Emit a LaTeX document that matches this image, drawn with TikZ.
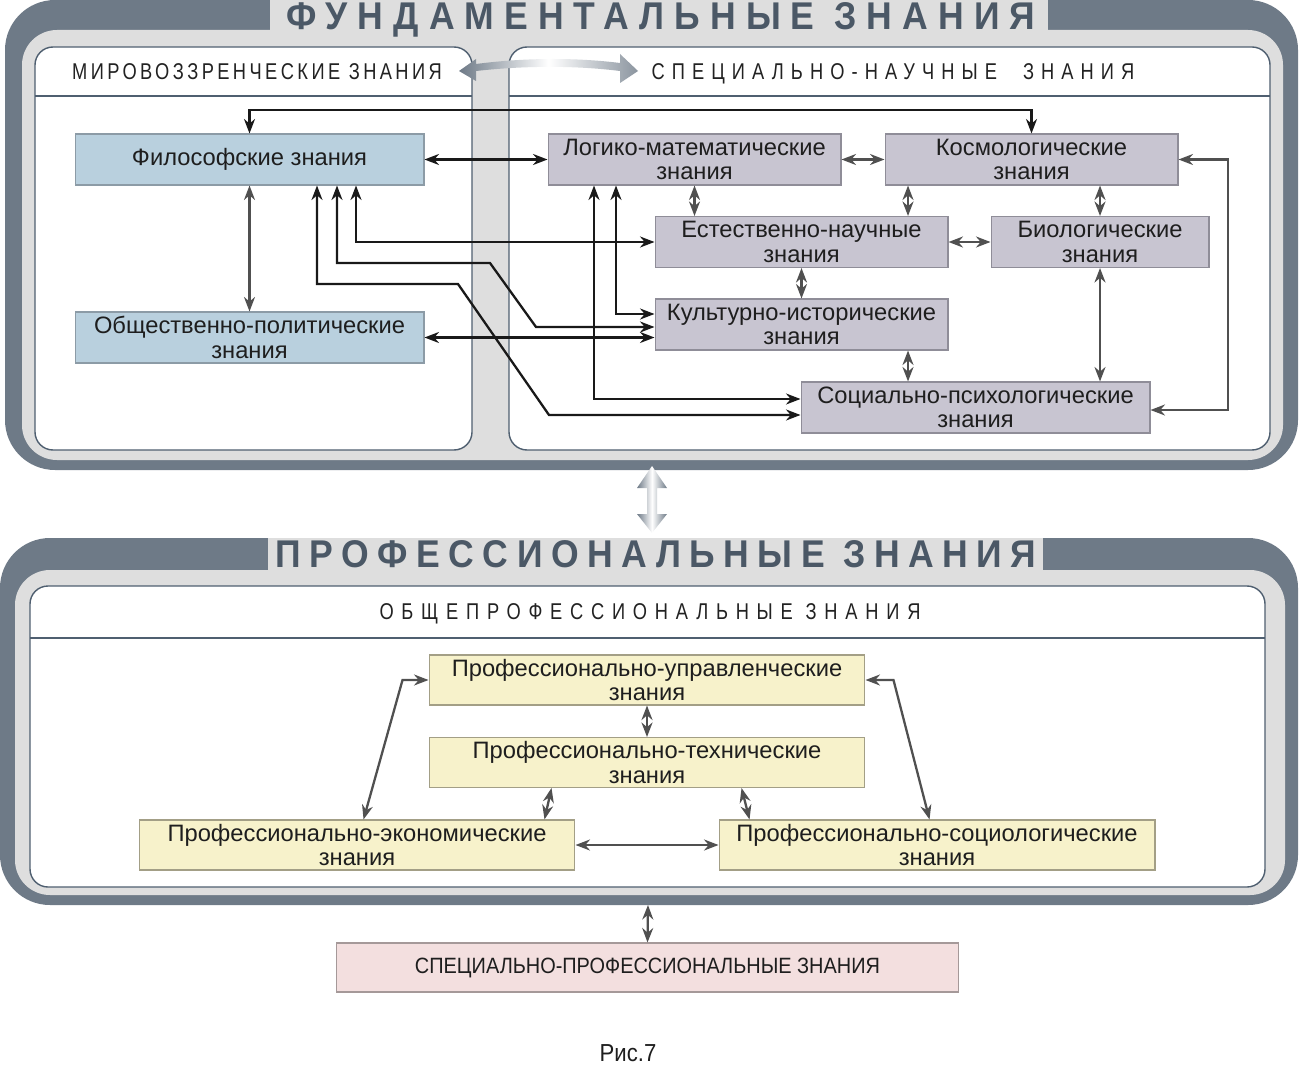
\documentclass[tikz,border=0pt]{standalone}
\usepackage{fontspec}
\setmainfont{Liberation Sans}
\newfontfamily\hdrfont[LetterSpace=15,FakeStretch=0.8]{Liberation Sans}
\newfontfamily\ttlfont[LetterSpace=26,FakeStretch=0.92]{Liberation Sans}
\newfontfamily\narrowfont[FakeStretch=0.9]{Liberation Sans}
\usetikzlibrary{positioning,arrows.meta,calc}
\definecolor{framedark}{HTML}{6E7A87}
\definecolor{framelight}{HTML}{DEDEDE}
\definecolor{ttltext}{HTML}{4B5866}
\definecolor{hdrtext}{HTML}{222222}
\definecolor{panelline}{HTML}{4F5F70}
\definecolor{textdark}{HTML}{1E1E1E}
\definecolor{bluefill}{HTML}{B9D0DE}
\definecolor{blueline}{HTML}{8C9BA6}
\definecolor{lavfill}{HTML}{C8C5D1}
\definecolor{lavline}{HTML}{8F8D98}
\definecolor{yelfill}{HTML}{F7F2CB}
\definecolor{yelline}{HTML}{A39F86}
\definecolor{pinkfill}{HTML}{F3DFDF}
\definecolor{pinkline}{HTML}{A59999}
\definecolor{arrgray}{HTML}{505050}
\tikzset{
    >=Stealth,
    blk/.style={draw=black!90,line width=1.3pt,<->,>={Stealth[length=2.9mm,width=2.2mm]}},
    gry/.style={draw=arrgray,line width=1.3pt,<->,>={Stealth[length=2.9mm,width=2.2mm]}}
}

\begin{document}
\begin{tikzpicture}[x=0.02cm,y=-0.02cm,
    box/.style={rectangle,inner sep=0pt,align=center,line width=0.6pt,
                text=textdark,font=\fontsize{13.5}{13.8}\selectfont},
    blubox/.style={box,fill=bluefill,draw=blueline,minimum height=1.02cm},
    lavbox/.style={box,fill=lavfill,draw=lavline,minimum height=1.02cm},
    yelbox/.style={box,fill=yelfill,draw=yelline,minimum height=1.0cm,minimum width=8.72cm},
    pinkbox/.style={box,fill=pinkfill,draw=pinkline,minimum height=0.98cm,
                    font=\narrowfont\fontsize{12.6}{13}\selectfont},
    ttl/.style={anchor=base,text=ttltext,font=\ttlfont\bfseries\fontsize{22}{22}\selectfont},
    hdr/.style={anchor=base,text=hdrtext,font=\hdrfont\fontsize{13}{13}\selectfont},
    panel/.style={draw=panelline,line width=0.8pt,fill=white,rounded corners=0.36cm}]

\useasboundingbox (0,0) rectangle (1300,1067);

% Frames
\fill[framedark,rounded corners=1cm] (5,0) rectangle (1298,470);
\fill[framelight,rounded corners=0.7cm] (22,30) rectangle (1283,460);
\fill[framelight] (270,0) rectangle (1048,30);
\draw[panel] (35,47) rectangle (472,450);
\draw[panel] (509,47) rectangle (1270,450);
\draw[panelline,line width=0.8pt] (35,96) -- (472,96) (509,96) -- (1270,96);

\fill[framedark,rounded corners=1cm] (0,538) rectangle (1298,905);
\fill[framelight,rounded corners=0.7cm] (15,570) rectangle (1285,895);
\fill[framelight] (268,538) rectangle (1043,570);
\draw[panel] (30,586) rectangle (1265,887);
\draw[panelline,line width=0.8pt] (30,638) -- (1265,638);

% Titles
\node[ttl] (fundttl) at (661,30) {ФУНДАМЕНТАЛЬНЫЕ ЗНАНИЯ};
\node[ttl] (profttl) at (656,567) {\addfontfeatures{LetterSpace=22}ПРОФЕССИОНАЛЬНЫЕ ЗНАНИЯ};
\node[hdr] (mirhdr) at (257,80) {МИРОВОЗЗРЕНЧЕСКИЕ ЗНАНИЯ};
\node[hdr] (naukhdr) at (893,80) {\addfontfeatures{LetterSpace=31}СПЕЦИАЛЬНО-НАУЧНЫЕ\hspace{0.6em} ЗНАНИЯ};
\node[hdr] (obshdr) at (650,619) {\addfontfeatures{LetterSpace=34}ОБЩЕПРОФЕССИОНАЛЬНЫЕ ЗНАНИЯ};

% Shaded arrows
\shade[left color=framedark,right color=framedark!80,middle color=white]
  (459,71) -- (476,59) -- (476,64) .. controls (530,57) and (580,58) .. (620,63)
  -- (620,54) -- (638,71) -- (620,83) -- (620,71) .. controls (580,66) and (530,65) .. (476,71)
  -- (476,81) -- cycle;
\shade[left color=framedark,right color=framedark,middle color=white]
  (652,466) -- (667,488) -- (657,488) -- (657,514) -- (667,514) -- (652,533)
  -- (637,514) -- (647,514) -- (647,488) -- (637,488) -- cycle;

% Boxes
\node[blubox,minimum width=6.98cm] (fil) at (249.5,159.5) {Философские знания};
\node[blubox,minimum width=6.98cm] (obs) at (249.5,337.5) {Общественно-политические\\знания};
\node[lavbox,minimum width=5.86cm] (log) at (694.5,159.5) {Логико-математические\\знания};
\node[lavbox,minimum width=5.86cm] (kos) at (1031.5,159.5) {Космологические\\знания};
\node[lavbox,minimum width=5.86cm] (est) at (801.5,242) {Естественно-научные\\знания};
\node[lavbox,minimum width=4.36cm] (bio) at (1100,242) {Биологические\\знания};
\node[lavbox,minimum width=5.86cm] (kul) at (801.5,324.5) {Культурно-исторические\\знания};
\node[lavbox,minimum width=6.98cm] (soc) at (975.5,407.5) {Социально-психологические\\знания};

\node[yelbox] (upr) at (647,680) {Профессионально-управленческие\\знания};
\node[yelbox] (teh) at (647,762.5) {Профессионально-технические\\знания};
\node[yelbox] (eko) at (357,845) {Профессионально-экономические\\знания};
\node[yelbox] (scl) at (937,845) {Профессионально-социологические\\знания};
\node[pinkbox,minimum width=12.46cm] (spp) at (647.5,967.5) {СПЕЦИАЛЬНО-ПРОФЕССИОНАЛЬНЫЕ ЗНАНИЯ};

\node[anchor=base,text=textdark,font=\narrowfont\fontsize{14}{14}\selectfont] (cap) at (628,1061) {Рис.7};

% Bend points
\coordinate (toprt) at (0,110);
\coordinate (v1) at (356,243);
\coordinate (v2) at (337,263);
\coordinate (k2a) at (490,263);
\coordinate (k2b) at (536,327);
\coordinate (v3) at (317,284);
\coordinate (k3a) at (458,284);
\coordinate (k3b) at (549,415);
\coordinate (v4) at (594,399);
\coordinate (v5) at (616,314);
\coordinate (x908) at (908,0);
\coordinate (rr) at (1228,410);
\coordinate (pfb) at (648,905);

% Links
\draw[blk] (fil.north) |- (toprt -| kos.north) -- (kos.north);
\draw[blk] (fil.east) -- (log.west);
\draw[blk] (obs.east) -- (obs.east -| kul.west);
\draw[blk] (fil.south -| v1) |- (est.west);
\draw[blk] (fil.south -| v2) -- (v2) -- (k2a) -- (k2b) -- (k2b -| kul.west);
\draw[blk] (fil.south -| v3) -- (v3) -- (k3a) -- (k3b) -- (k3b -| soc.west);
\draw[blk] (log.south -| v4) |- (soc.west |- v4);
\draw[blk] (log.south -| v5) |- (kul.west |- v5);

\draw[gry] (fil.south) -- (obs.north);
\draw[gry] (log.south) -- (log.south |- est.north);
\draw[gry] (log.east) -- (kos.west);
\draw[gry] (kos.south -| x908) -- (est.north -| x908);
\draw[gry] (kos.south -| bio.north) -- (bio.north);
\draw[gry] (est.east) -- (bio.west);
\draw[gry] (est.south) -- (kul.north);
\draw[gry] (kul.south -| x908) -- (soc.north -| x908);
\draw[gry] (bio.south) -- (bio.south |- soc.north);
\draw[gry] (kos.east) -| (rr) -- (soc.east |- rr);

\draw[gry] (upr.south) -- (teh.north);
\draw[gry] ($(teh.south west)+(123,0)$) -- ($(eko.north west)+(406,0)$);
\draw[gry] ($(teh.south west)+(313,0)$) -- ($(scl.north west)+(31,0)$);
\draw[gry] (eko.east) -- (scl.west);
\draw[gry] (upr.west) -- ++(-26,0) -- ($(eko.north west)+(225,0)$);
\draw[gry] (upr.east) -- ++(28,0) -- ($(scl.north west)+(211,0)$);
\draw[gry] (pfb) -- (spp.north);

\end{tikzpicture}
\end{document}
